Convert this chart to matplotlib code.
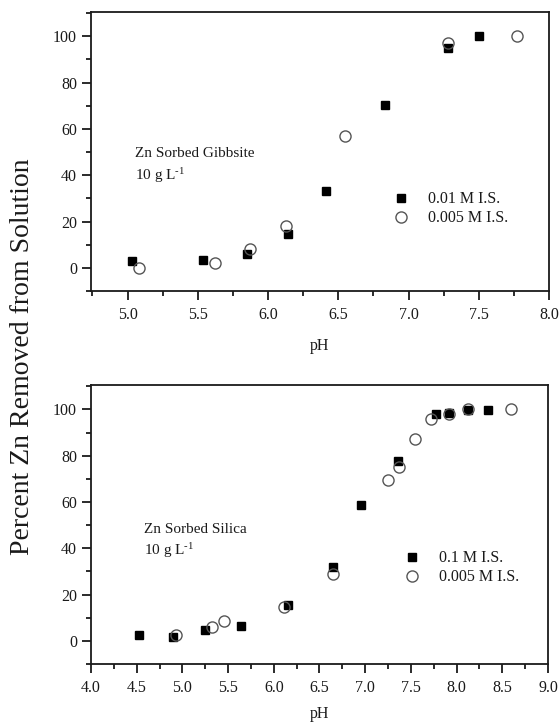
import numpy as np
import matplotlib
matplotlib.use('Agg')
import matplotlib.pyplot as plt
from matplotlib.ticker import MultipleLocator

plt.rc('font', family='Liberation Serif', size=11)
plt.rc('mathtext', fontset='custom', rm='Liberation Serif', it='Liberation Serif:italic')

# Zn sorbed gibbsite
gib_ph_a = [5.03, 5.54, 5.85, 6.14, 6.41, 6.83, 7.28, 7.50]
gib_pct_a = [2.9, 3.2, 5.9, 14.5, 33.2, 70.2, 95.0, 100.0]
gib_ph_b = [5.08, 5.62, 5.87, 6.13, 6.55, 7.28, 7.77]
gib_pct_b = [0.0, 2.3, 8.2, 18.0, 57.0, 97.1, 100.0]
gib_labels = ['0.01 M I.S.', '0.005 M I.S.']

# Zn sorbed silica
sil_ph_a = [4.53, 4.90, 5.25, 5.64, 6.15, 6.65, 6.95, 7.36, 7.77, 7.92, 8.13, 8.34]
sil_pct_a = [2.7, 1.7, 4.7, 6.5, 15.3, 31.9, 58.7, 77.8, 97.8, 98.6, 99.6, 99.9]
sil_ph_b = [4.93, 5.32, 5.46, 6.11, 6.65, 7.25, 7.37, 7.55, 7.72, 7.92, 8.13, 8.59]
sil_pct_b = [2.6, 6.2, 8.5, 14.5, 28.9, 69.5, 75.0, 87.1, 95.8, 98.0, 100.0, 100.0]
sil_labels = ['0.1 M I.S.', '0.005 M I.S.']

INK = '#1a1a1a'


def style_axes(ax, xlim, xmajor, labelpad):
    ax.set_xlim(*xlim)
    ax.set_ylim(-10, 110.5)
    ax.xaxis.set_major_locator(MultipleLocator(xmajor))
    ax.xaxis.set_minor_locator(MultipleLocator(xmajor / 2))
    ax.yaxis.set_major_locator(MultipleLocator(20))
    ax.yaxis.set_minor_locator(MultipleLocator(10))
    ax.xaxis.set_major_formatter(matplotlib.ticker.FormatStrFormatter('%.1f'))
    ax.tick_params(which='both', direction='out', top=False, right=False,
                   colors=INK, labelcolor=INK, width=1.3, labelsize=11.5)
    ax.tick_params(which='major', length=6.5)
    ax.tick_params(which='minor', length=3.5)
    ax.tick_params(axis='x', which='major', pad=5)
    for s in ax.spines.values():
        s.set_linewidth(1.3)
        s.set_color(INK)
    ax.set_xlabel('pH', fontsize=11.5, color=INK, labelpad=labelpad)


def draw(ax, xa, ya, xb, yb, labels):
    ax.plot(xa, ya, 's', color='black', markersize=6, label=labels[0], zorder=3)
    ax.plot(xb, yb, 'o', markerfacecolor='none', markeredgecolor='#555555',
            markeredgewidth=1.0, markersize=8, label=labels[1], zorder=4)


fig = plt.figure(figsize=(5.59, 7.25), dpi=100)
ax1 = fig.add_axes([0.1628, 0.5986, 0.8193, 0.3848])
ax2 = fig.add_axes([0.1628, 0.0841, 0.8175, 0.3848])

sup = '10 g L$^{\\text{-1}}$'

draw(ax1, gib_ph_a, gib_pct_a, gib_ph_b, gib_pct_b, gib_labels)
style_axes(ax1, (4.74, 8.0), 0.5, 11)
ax1.text(5.05, 49.4, 'Zn Sorbed Gibbsite', fontsize=11, color=INK, va='center')
ax1.text(5.05, 40.0, sup, fontsize=11, color=INK, va='center')
ax1.legend(loc='center left', bbox_to_anchor=(0.66, 0.295), frameon=False,
           fontsize=11.5, handlelength=1.0, handletextpad=1.2, labelspacing=0.2,
           borderpad=0, borderaxespad=0, labelcolor=INK)

draw(ax2, sil_ph_a, sil_pct_a, sil_ph_b, sil_pct_b, sil_labels)
style_axes(ax2, (4.0, 9.0), 0.5, 7)
ax2.text(4.58, 48.2, 'Zn Sorbed Silica', fontsize=11, color=INK, va='center')
ax2.text(4.58, 39.1, sup, fontsize=11, color=INK, va='center')
ax2.legend(loc='center left', bbox_to_anchor=(0.685, 0.345), frameon=False,
           fontsize=11.5, handlelength=1.0, handletextpad=1.2, labelspacing=0.2,
           borderpad=0, borderaxespad=0, labelcolor=INK)

fig.text(0.041, 0.5076, 'Percent Zn Removed from Solution', rotation=90,
         fontsize=20, color=INK, ha='center', va='center')

fig.savefig('out.png', dpi=100)
